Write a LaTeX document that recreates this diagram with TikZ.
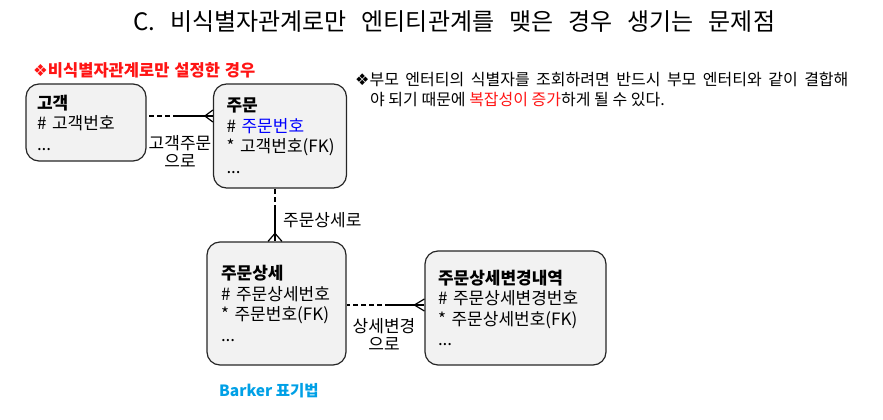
\documentclass[tikz,border=0pt]{standalone}
\usepackage{fontspec}
\setmainfont{Noto Sans CJK KR}
\newfontfamily\symfont{DejaVu Sans}
\definecolor{barker}{RGB}{0,160,230}
\definecolor{warn}{RGB}{255,20,20}
\begin{document}
\begin{tikzpicture}[x=1pt,y=-1pt,
    entity/.style={draw=black!85,line width=1.2pt,fill=black!5,rounded corners=13pt,
      align=left,inner sep=0pt,font=\fontsize{17}{20.5}\selectfont},
    lbl/.style={align=center,inner sep=0pt,font=\fontsize{17}{18}\selectfont},
    rel/.style={line width=1.2pt},
    opt/.style={rel,dash pattern=on 5pt off 3pt}]
  \useasboundingbox (0,0) rectangle (883,420);
  \node[anchor=base west,inner sep=0pt,font=\fontsize{24}{28}\selectfont] (title) at (133,31)
    {\spaceskip=15pt C. 비식별자관계로만 엔티티관계를 맺은 경우 생기는 문제점};
  \node[anchor=base west,inner sep=0pt,text=warn,font=\fontsize{16.5}{18}\selectfont\bfseries] (case) at (33,76)
    {\spaceskip=5pt{\symfont ❖}비식별자관계로만 설정한 경우};
  \node[anchor=base west,inner sep=0pt,align=left,font=\fontsize{16}{20}\selectfont] (note) at (355,105)
    {\spaceskip=6.5pt{\symfont ❖}부모 엔터티의 식별자를 조회하려면 반드시 부모 엔터티와 같이 결합해\\
     \hspace*{15pt}야 되기 때문에 \textcolor{warn}{복잡성이 증가}하게 될 수 있다.};
  % entities
  \node[entity,minimum width=120pt,minimum height=77pt,text width=98pt] (cust) at (86,122.5)
    {\textbf{고객}\\\#~고객번호\\...};
  \node[entity,minimum width=133pt,minimum height=104pt,text width=107pt] (ord) at (280,136)
    {\textbf{주문}\\\#~\textcolor{blue}{주문번호}\\{*}~고객번호(FK)\\...};
  \node[entity,minimum width=139pt,minimum height=123pt,text width=111pt] (det) at (276.5,303.5)
    {\textbf{주문상세}\\\#~주문상세번호\\{*}~주문번호(FK)\\...};
  \node[entity,minimum width=181pt,minimum height=114pt,text width=155pt] (hist) at (515.5,308)
    {\textbf{주문상세변경내역}\\\#~주문상세변경번호\\{*}~주문상세번호(FK)\\...};
  % relationships
  \coordinate (j1) at (178,116);
  \draw[opt] (j1) -- (j1 -| cust.east);
  \draw[rel] (j1) -- (j1 -| ord.west);
  \draw[rel] (j1 -| ord.west) ++(0,-6) -- ++(-8,6) -- ++(8,6);
  \coordinate (j2) at (275,210);
  \draw[opt] (j2) -- (j2 |- ord.south);
  \draw[rel] (j2) -- (j2 |- det.north);
  \draw[rel] (j2 |- det.north) ++(-7,0) -- ++(7,-8) -- ++(7,8);
  \coordinate (j3) at (390,305);
  \draw[opt] (j3) -- (j3 -| det.east);
  \draw[rel] (j3) -- (j3 -| hist.west);
  \draw[rel] (j3 -| hist.west) ++(0,-6) -- ++(-10,6) -- ++(10,6);
  % labels
  \node[lbl] (l1) at (180,151) {고객주문\\으로};
  \node[lbl,anchor=base west] (l2) at (283,226) {주문상세로};
  \node[lbl] (l3) at (384,334) {상세변경\\으로};
  \node[anchor=base west,inner sep=0pt,text=barker,font=\fontsize{15.5}{18}\selectfont\bfseries] (bk) at (219,396)
    {Barker 표기법};
\end{tikzpicture}
\end{document}
